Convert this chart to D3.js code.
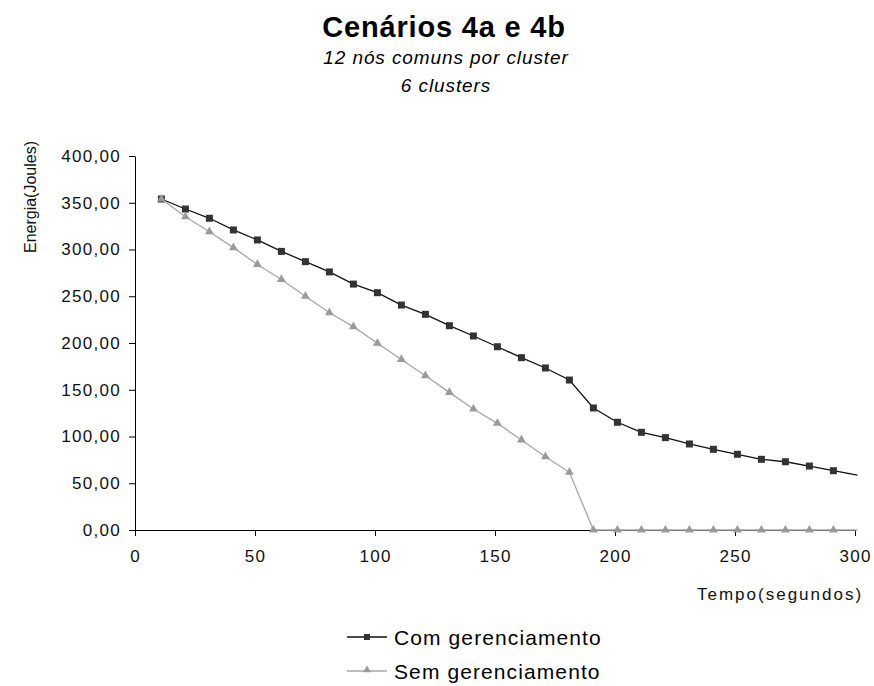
<!DOCTYPE html>
<html>
<head>
<meta charset="utf-8">
<script src="https://cdn.jsdelivr.net/npm/d3@7"></script>
<style>
  body { margin: 0; background: #fff; }
  svg { font-family: Arial, "Liberation Sans", sans-serif; }
</style>
</head>
<body>
<div id="chart"></div>
<script>
//Data
const tempo = [11, 21, 31, 41, 51, 61, 71, 81, 91, 101, 111, 121, 131, 141, 151,
               161, 171, 181, 191, 201, 211, 221, 231, 241, 251, 261, 271, 281, 291, 301];
const comGerenciamento = [354, 343.3, 333.4, 320.9, 310.2, 298, 287, 276, 263, 253.8,
                          240.6, 230.7, 218.5, 207.5, 196, 184.3, 173.3, 160.4, 130.5, 115.2,
                          104.5, 98.8, 92, 86.3, 81, 75.6, 73, 68.4, 63.4, 58.8];
const semGerenciamento = [354, 335, 319, 302, 284, 268, 250, 232.4, 217.5, 199.7,
                          182.4, 165, 147.2, 129.4, 114.1, 96.3, 78.4, 61.7, 0, 0,
                          0, 0, 0, 0, 0, 0, 0, 0, 0, 0];
const xTicks = [0, 50, 100, 150, 200, 250, 300];
const yTicks = [0, 50, 100, 150, 200, 250, 300, 350, 400];
const seriesNames = ["Com gerenciamento", "Sem gerenciamento"];

//Dim
const width = 874;
const height = 686;

const svg = d3.select("#chart")
    .append("svg")
    .attr("width", width)
    .attr("height", height);

//Scales
const xScale = d3.scaleLinear().domain([0, 300]).range([135, 855]);
const yScale = d3.scaleLinear().domain([0, 400]).range([530, 156]);

const ptBR = d3.formatLocale({ decimal: ",", thousands: ".", grouping: [3], currency: ["R$", ""] });
const fmt = ptBR.format(".2f");

//Titles
svg.append("text")
    .attr("x", 444).attr("y", 37)
    .attr("text-anchor", "middle")
    .attr("font-size", 29).attr("font-weight", "bold")
    .attr("letter-spacing", 0.8)
    .text("Cenários 4a e 4b");
svg.append("text")
    .attr("x", 446).attr("y", 64)
    .attr("text-anchor", "middle")
    .attr("font-size", 19).attr("font-style", "italic")
    .attr("letter-spacing", 0.9)
    .text("12 nós comuns por cluster");
svg.append("text")
    .attr("x", 446).attr("y", 92)
    .attr("text-anchor", "middle")
    .attr("font-size", 19).attr("font-style", "italic")
    .attr("letter-spacing", 0.9)
    .text("6 clusters");

//Axes
const yAxis = svg.append("g")
    .attr("transform", "translate(135,0)")
    .call(d3.axisLeft(yScale).tickValues(yTicks).tickFormat(fmt).tickSize(6).tickSizeOuter(0).tickPadding(8));
const xAxis = svg.append("g")
    .attr("transform", "translate(0,530)")
    .call(d3.axisBottom(xScale).tickValues(xTicks).tickSize(6).tickSizeOuter(0).tickPadding(14));

[yAxis, xAxis].forEach(g => {
    g.select(".domain").attr("stroke", "#000");
    g.selectAll(".tick line").attr("stroke", "#000");
    g.selectAll(".tick text")
        .attr("font-size", 17)
        .attr("letter-spacing", 1.3)
        .attr("fill", "#111")
        .attr("font-family", "Arial, 'Liberation Sans', sans-serif");
});

svg.append("text")
    .attr("transform", "translate(36,197) rotate(-90)")
    .attr("text-anchor", "middle")
    .attr("font-size", 16)
    .attr("fill", "#111")
    .text("Energia(Joules)");
svg.append("text")
    .attr("x", 697).attr("y", 600)
    .attr("font-size", 17)
    .attr("letter-spacing", 2)
    .attr("fill", "#111")
    .text("Tempo(segundos)");

//Series
const comData = tempo.map((t, i) => ({ x: t, y: comGerenciamento[i] }));
const semData = tempo.map((t, i) => ({ x: t, y: semGerenciamento[i] }));

const line = d3.line().x(d => xScale(d.x)).y(d => yScale(d.y));

svg.append("path")
    .datum(comData)
    .attr("d", line)
    .attr("fill", "none")
    .attr("stroke", "#111")
    .attr("stroke-width", 1.3);
svg.selectAll(".sq")
    .data(comData.filter(d => d.x <= 300))
    .enter()
    .append("rect")
    .attr("class", "sq")
    .attr("x", d => xScale(d.x) - 3.5)
    .attr("y", d => yScale(d.y) - 3.5)
    .attr("width", 7).attr("height", 7)
    .attr("fill", "#333");

svg.append("path")
    .datum(semData)
    .attr("d", line)
    .attr("fill", "none")
    .attr("stroke", "#a6a6a6")
    .attr("stroke-width", 1.3);
const tri = d3.symbol().type(d3.symbolTriangle).size(34);
svg.selectAll(".tri")
    .data(semData.filter(d => d.x <= 300))
    .enter()
    .append("path")
    .attr("class", "tri")
    .attr("d", tri)
    .attr("transform", d => `translate(${xScale(d.x)},${yScale(d.y)})`)
    .attr("fill", "#9a9a9a");

//Legend
const legend = svg.append("g");
const legendRows = [
    { name: seriesNames[0], y: 637, stroke: "#111", fill: "#333", shape: "sq" },
    { name: seriesNames[1], y: 671, stroke: "#a6a6a6", fill: "#9a9a9a", shape: "tri" }
];
legendRows.forEach(r => {
    legend.append("line")
        .attr("x1", 347).attr("x2", 387)
        .attr("y1", r.y).attr("y2", r.y)
        .attr("stroke", r.stroke).attr("stroke-width", 1.3);
    if (r.shape === "sq") {
        legend.append("rect")
            .attr("x", 364).attr("y", r.y - 3)
            .attr("width", 6).attr("height", 6)
            .attr("fill", r.fill);
    } else {
        legend.append("path")
            .attr("d", d3.symbol().type(d3.symbolTriangle).size(26))
            .attr("transform", `translate(367,${r.y - 1})`)
            .attr("fill", r.fill);
    }
    legend.append("text")
        .attr("x", 394).attr("y", r.y + 7.5)
        .attr("font-size", 21)
        .attr("letter-spacing", 1.1)
        .attr("fill", "#000")
        .text(r.name);
});
</script>
</body>
</html>
